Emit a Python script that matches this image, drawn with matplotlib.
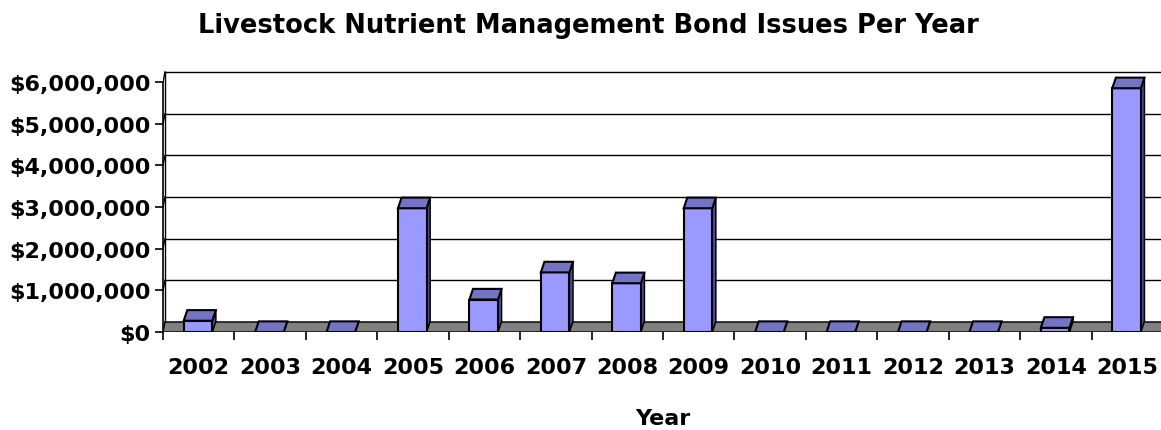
import matplotlib
matplotlib.use("Agg")
import matplotlib.pyplot as plt
from matplotlib.patches import Polygon
import numpy as np

# ---- data ----
years = ['2002', '2003', '2004', '2005', '2006', '2007', '2008',
         '2009', '2010', '2011', '2012', '2013', '2014', '2015']
bond_issues = [270000, 0, 0, 2970000, 780000, 1430000, 1170000,
               2970000, 0, 0, 0, 0, 100000, 5850000]
y_ticks = [0, 1000000, 2000000, 3000000, 4000000, 5000000, 6000000]
y_labels = ['$0', '$1,000,000', '$2,000,000', '$3,000,000',
            '$4,000,000', '$5,000,000', '$6,000,000']

# the original text is a horizontally stretched arial, dejavu bold has
# about the same width / height ratio
plt.rcParams['font.family'] = ['DejaVu Sans']

# colours of the old excel 3d column chart
front_col = '#9999FF'
top_col = '#7474C4'
side_col = '#4E4E9E'
floor_col = '#808080'

# fake 3d depth (in data units)
wall_dx, wall_dy = 0.028, 240000
bar_dx, bar_dy = 0.05, 255000
bar_left, bar_right = -0.21, 0.19

fig = plt.figure(figsize=(11.61, 4.31), dpi=100)
ax = fig.add_axes([163 / 1161, 98 / 431, 1000 / 1161, 262.5 / 431])
n = len(years)
x = np.arange(n)
ax.set_xlim(-0.5, n - 0.5)
ax.set_ylim(0, 6300000)

# back wall gridlines + little left wall connectors
x0 = -0.5
for v in y_ticks:
    ax.plot([x0 + wall_dx, n - 0.5 + wall_dx], [v + wall_dy, v + wall_dy],
            color='black', lw=1.0, zorder=1, clip_on=False)
    ax.plot([x0, x0 + wall_dx], [v, v + wall_dy], color='black', lw=1.0, zorder=1)
ax.plot([x0 + wall_dx, x0 + wall_dx], [wall_dy, y_ticks[-1] + wall_dy],
        color='black', lw=1.0, zorder=1)

# floor
floor = Polygon([(x0, 0), (n - 0.5, 0), (n - 0.5 + wall_dx, wall_dy),
                 (x0 + wall_dx, wall_dy)], closed=True,
                facecolor=floor_col, edgecolor='black', lw=1.0, zorder=2)
ax.add_patch(floor)

# bars: front, side and top faces
for xi, v in zip(x, bond_issues):
    l, r = xi + bar_left, xi + bar_right
    side = Polygon([(r, 0), (r + bar_dx, bar_dy), (r + bar_dx, v + bar_dy), (r, v)],
                   closed=True, facecolor=side_col, edgecolor='black', lw=1.1, zorder=3)
    ax.add_patch(side)
    if v > 0:
        front = Polygon([(l, 0), (r, 0), (r, v), (l, v)], closed=True,
                        facecolor=front_col, edgecolor='black', lw=1.5, zorder=4)
        ax.add_patch(front)
    top = Polygon([(l, v), (r, v), (r + bar_dx, v + bar_dy), (l + bar_dx, v + bar_dy)],
                  closed=True, facecolor=top_col, edgecolor='black', lw=1.5, zorder=4)
    ax.add_patch(top)

# axes styling
for s in ['top', 'right', 'bottom']:
    ax.spines[s].set_visible(False)
ax.spines['left'].set_bounds(0, y_ticks[-1])
ax.spines['left'].set_linewidth(1.2)
ax.spines['left'].set_zorder(5)

ax.set_yticks(y_ticks)
ax.set_yticklabels(y_labels, fontsize=16, fontweight='bold')
ax.tick_params(axis='y', direction='out', length=6, width=1.2, pad=3)

ax.set_xticks(x)
ax.set_xticklabels(years, fontsize=16, fontweight='bold')
ax.set_xticks(np.arange(n) - 0.5, minor=True)
ax.tick_params(axis='x', which='major', length=0, pad=18)
ax.tick_params(axis='x', which='minor', direction='out', length=6, width=1.2)

ax.set_xlabel('Year', fontsize=16, fontweight='bold', labelpad=22)
fig.text(588 / 1161, 1 - 33 / 431, 'Livestock Nutrient Management Bond Issues Per Year',
         ha='center', va='baseline', fontsize=18.5, fontweight='bold')

fig.savefig('out.png', dpi=100)
